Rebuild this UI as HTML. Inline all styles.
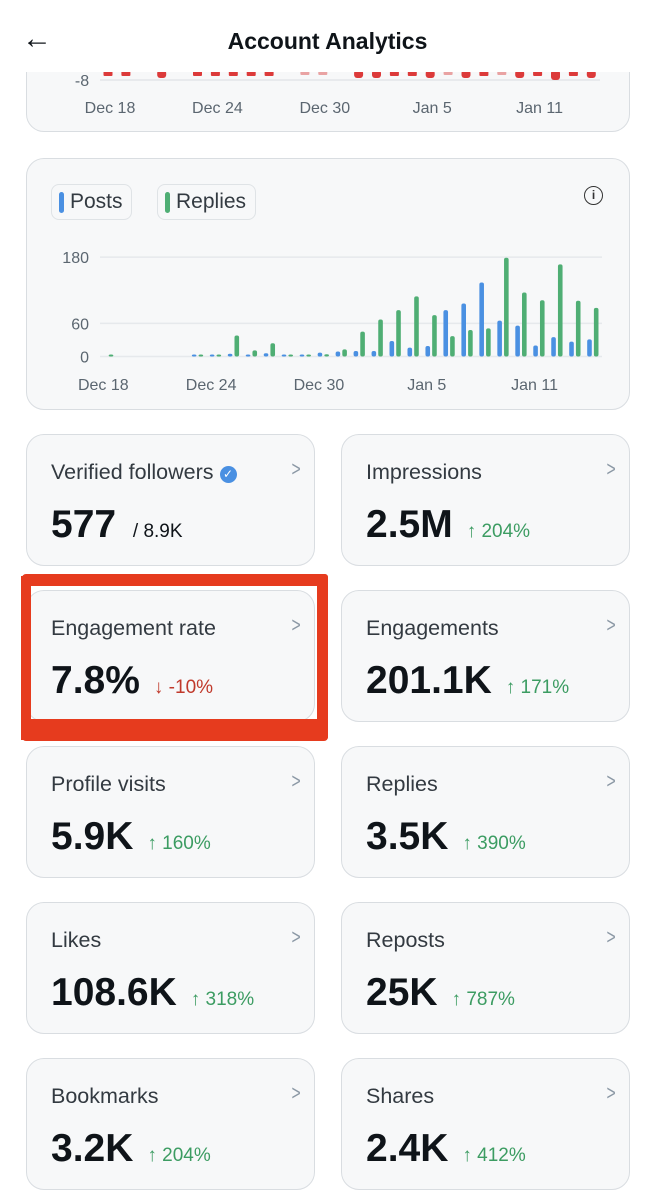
<!DOCTYPE html>
<html><head><meta charset="utf-8"><style>
*{box-sizing:border-box;margin:0;padding:0}
body{width:655px;height:1200px;background:#fff;font-family:"Liberation Sans",sans-serif;position:relative;overflow:hidden;color:#0f1419}
.card{position:absolute;background:#f7f8f9;border:1.5px solid #d9dde1;border-radius:18px}
.stat{width:289px;height:132px}
.lab{position:absolute;left:24px;top:25px;font-size:21.5px;color:#333a41}
.chev{position:absolute;right:12px;top:23px;font-size:21px;color:#8b98a5;transform:scaleX(0.75)}
.val{position:absolute;left:24px;top:68px;font-size:39px;font-weight:bold;color:#0f1419;white-space:nowrap}
.chg{font-size:19px;font-weight:normal;color:#3c9c62;margin-left:14px}
.neg{color:#c0392b}
.pill{position:absolute;top:184px;height:36px;border:1.5px solid #dfe3e6;border-radius:8px;font-size:21px;color:#333a41;line-height:33px;padding-left:18px}
.pill i{position:absolute;left:7px;top:7px;width:5px;height:21px;border-radius:3px}
.red{position:absolute;background:#e63b1e}
</style></head><body>
<div class="card" style="left:26px;top:20px;width:604px;height:112px"></div>
<svg id="topchart" width="655" height="140" style="position:absolute;left:0;top:0">
<line x1="100" y1="80" x2="600" y2="80" stroke="#e3e6e9" stroke-width="1.5"/>
<text x="82" y="86" font-size="16" fill="#5b6670" text-anchor="middle" font-family="Liberation Sans">-8</text>
</svg>
<div style="position:absolute;left:0;top:0;width:655px;height:72px;background:#fff">
<div style="position:absolute;left:22px;top:22px;font-size:30px;color:#0f1419">&#8592;</div>
<div style="position:absolute;left:0;width:655px;top:28px;text-align:center;font-size:23px;font-weight:bold">Account Analytics</div>
</div>

<div class="card" style="left:26px;top:158px;width:604px;height:252px"></div>
<div class="pill" style="left:51px;width:81px"><i style="background:#4a90e2"></i>Posts</div>
<div class="pill" style="left:157px;width:99px"><i style="background:#4fae74"></i>Replies</div>
<div style="position:absolute;left:584px;top:186px;width:19px;height:19px;border:1.8px solid #333;border-radius:50%;font-size:12px;font-weight:bold;text-align:center;line-height:16px;color:#333">i</div>
<svg id="barchart" width="655" height="420" style="position:absolute;left:0;top:0"></svg>

<div class="card stat" style="left:26px;top:434px"><div class="lab">Verified followers <span style="display:inline-block;width:17px;height:17px;border-radius:50%;background:#4a90e2;color:#fff;font-size:12px;text-align:center;line-height:17px;vertical-align:1px">✓</span></div><div class="chev">&gt;</div><div class="val">577 <span style="font-size:19px;font-weight:normal;margin-left:6px">/ 8.9K</span></div></div>
<div class="card stat" style="left:341px;top:434px"><div class="lab">Impressions</div><div class="chev">&gt;</div><div class="val">2.5M<span class="chg">↑ 204%</span></div></div>
<div class="card stat" style="left:26px;top:590px"><div class="lab">Engagement rate</div><div class="chev">&gt;</div><div class="val">7.8%<span class="chg neg">↓ -10%</span></div></div>
<div class="card stat" style="left:341px;top:590px"><div class="lab">Engagements</div><div class="chev">&gt;</div><div class="val">201.1K<span class="chg">↑ 171%</span></div></div>
<div class="card stat" style="left:26px;top:746px"><div class="lab">Profile visits</div><div class="chev">&gt;</div><div class="val">5.9K<span class="chg">↑ 160%</span></div></div>
<div class="card stat" style="left:341px;top:746px"><div class="lab">Replies</div><div class="chev">&gt;</div><div class="val">3.5K<span class="chg">↑ 390%</span></div></div>
<div class="card stat" style="left:26px;top:902px"><div class="lab">Likes</div><div class="chev">&gt;</div><div class="val">108.6K<span class="chg">↑ 318%</span></div></div>
<div class="card stat" style="left:341px;top:902px"><div class="lab">Reposts</div><div class="chev">&gt;</div><div class="val">25K<span class="chg">↑ 787%</span></div></div>
<div class="card stat" style="left:26px;top:1058px"><div class="lab">Bookmarks</div><div class="chev">&gt;</div><div class="val">3.2K<span class="chg">↑ 204%</span></div></div>
<div class="card stat" style="left:341px;top:1058px"><div class="lab">Shares</div><div class="chev">&gt;</div><div class="val">2.4K<span class="chg">↑ 412%</span></div></div>

<div>
<div class="red" style="left:22px;top:574px;width:306px;height:12px;border-radius:4px"></div>
<div class="red" style="left:21px;top:576px;width:10px;height:164px"></div>
<div class="red" style="left:317px;top:574px;width:11px;height:166px;border-radius:3px"></div>
<div class="red" style="left:22px;top:719px;width:306px;height:22px;border-radius:4px"></div>
</div>

<script>
const topDates=["Dec 18","Dec 24","Dec 30","Jan 5","Jan 11"];
const topNeg=[1,1,0,2,0,1,1,1,1,1,0,0.5,0.5,0,2,2,1,1,2,0.5,2,1,0.5,2,1,3,1,2];
const days=28;
const dateLabels=["Dec 18","Dec 24","Dec 30","Jan 5","Jan 11"];
const dateSlots=[0,6,12,18,24];
const yTicks=[0,60,180];
const posts=[0,0,0,0,0,1,1,5,3,6,2,3,7,9,10,10,28,16,19,84,96,134,65,56,20,35,27,31];
const replies=[3,0,0,0,0,1,1,38,11,24,2,3,4,13,45,67,84,109,75,37,48,51,179,116,102,167,101,88];
const NS="http://www.w3.org/2000/svg";
function mk(svg,tag,attrs){const e=document.createElementNS(NS,tag);for(const k in attrs)e.setAttribute(k,attrs[k]);svg.appendChild(e);return e;}
const ts=document.getElementById('topchart');
const tx=i=>108+i*17.9;
topNeg.forEach((v,i)=>{if(v<=0)return;
 const r=mk(ts,'rect',{x:tx(i)-4.5,y:70,width:9,height:4+v*2,rx:v>=2?3:1,fill:v<1?'#e9a3a3':'#dc3a3a'});
 
 });
topDates.forEach((d,i)=>{const t=mk(ts,'text',{x:tx(i*6)+2,y:113,'font-size':16,fill:'#5b6670','text-anchor':'middle','font-family':'Liberation Sans'});t.textContent=d;
 
 });
const bs=document.getElementById('barchart');
const xs=i=>104.3+i*17.97;
const ys=v=>356.5-v*0.552;
yTicks.forEach(v=>{
 const l=mk(bs,'line',{x1:100,x2:602,y1:ys(v),y2:ys(v),stroke:'#e6e9ec','stroke-width':1.5});
 
 
 const t=mk(bs,'text',{x:89,y:ys(v)+6,'font-size':16,fill:'#5b6670','text-anchor':'end','font-family':'Liberation Sans'});t.textContent=v;
 
 });
function bar(x,v,c,n){if(v<=0)return;const h=Math.max(2,v*0.552);
 const r=mk(bs,'rect',{x:x-2.3,y:356.5-h,width:4.6,height:h,rx:2,fill:c});
 
 }
for(let i=0;i<days;i++){bar(xs(i),posts[i],'#4a90e2','bar-posts');bar(xs(i)+6.7,replies[i],'#4fae74','bar-replies');}
dateLabels.forEach((d,i)=>{const t=mk(bs,'text',{x:xs(dateSlots[i])-1,y:390,'font-size':16,fill:'#5b6670','text-anchor':'middle','font-family':'Liberation Sans'});t.textContent=d;
 
 });
</script>
</body></html>
